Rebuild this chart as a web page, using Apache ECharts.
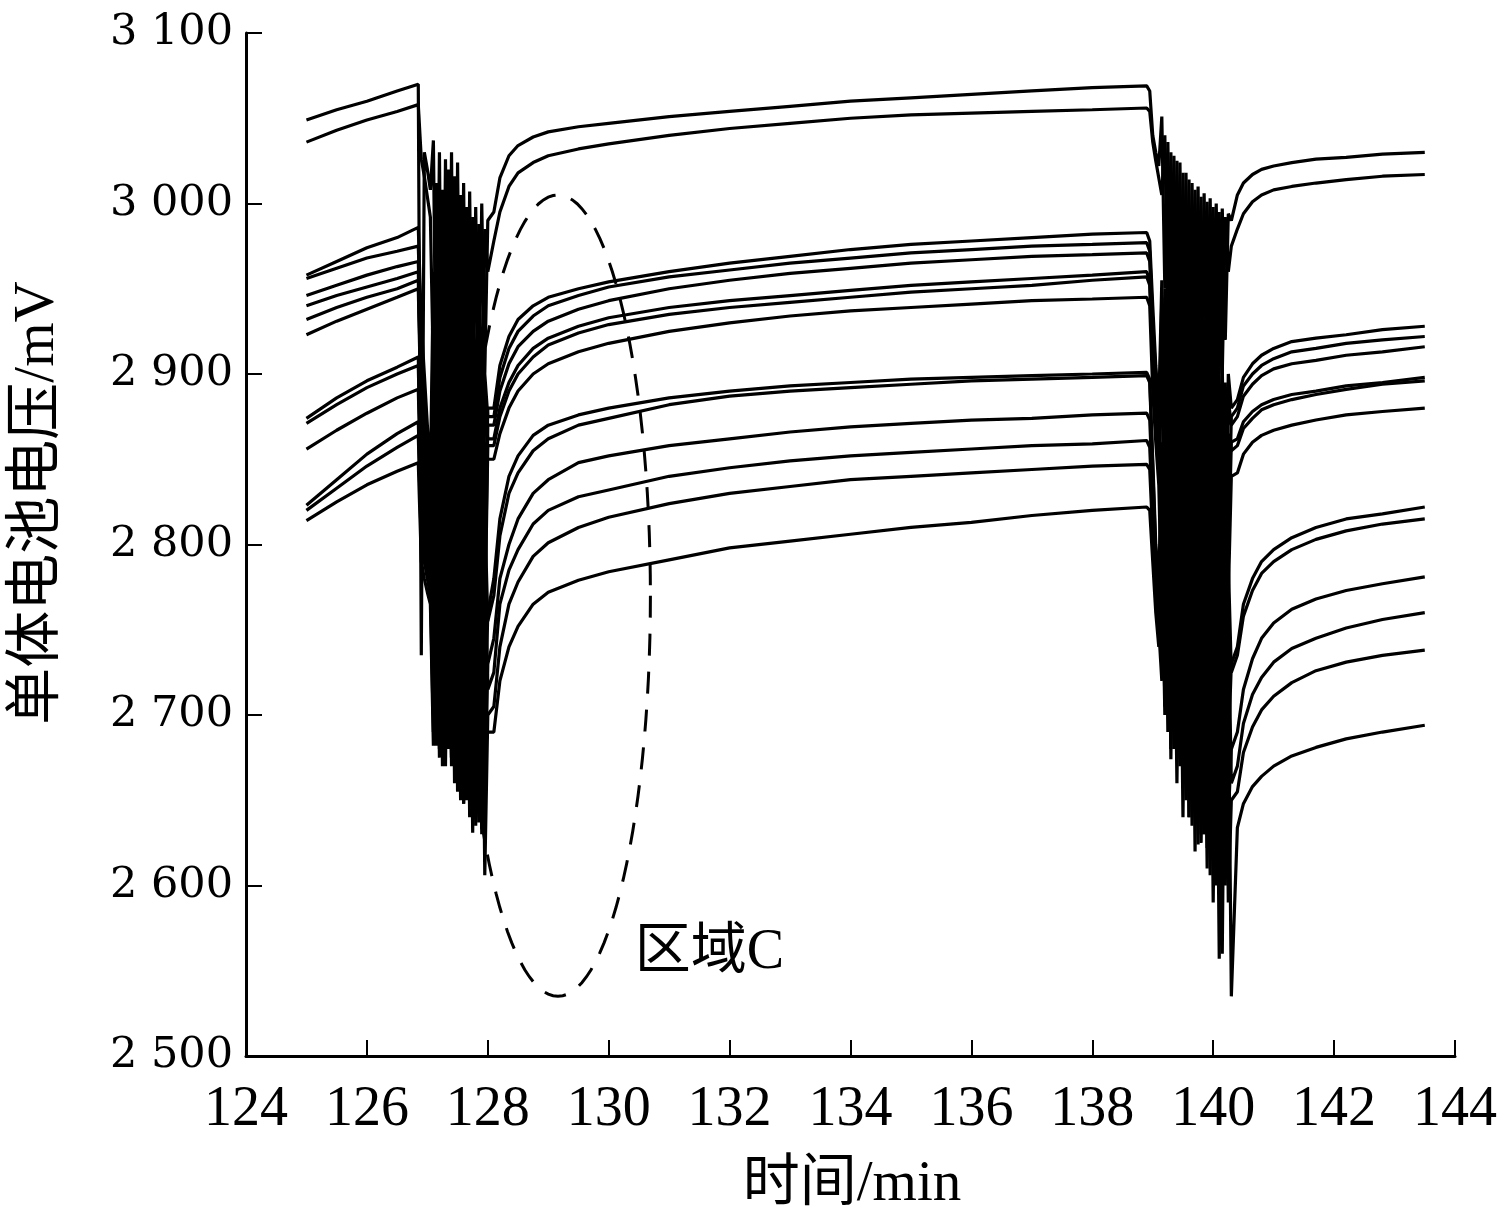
<!DOCTYPE html>
<html>
<head>
<meta charset="utf-8">
<script src="https://cdn.jsdelivr.net/npm/echarts@6/dist/echarts.min.js"></script>
<style>
  html, body { margin: 0; background: #fff; }
  #chart { width: 1510px; height: 1228px; }
</style>
</head>
<body>
<div id="chart"></div>
<script>
// time stamps (min) of each stretch, shared by all cells
const tBefore = [125, 125.5, 126, 126.5, 126.85]
const tDip1 = [126.9, 126.95, 127.0, 127.05, 127.1, 127.15, 127.2, 127.25, 127.3, 127.35, 127.4, 127.45,
  127.5, 127.55, 127.6, 127.65, 127.7, 127.75, 127.8, 127.85, 127.9, 127.95, 128.0]
const tRecovery = [128.1, 128.2, 128.35, 128.5, 128.75, 129, 129.5, 130, 131, 132, 133, 134, 135, 136, 137, 138, 138.9]
const tDip2 = [138.95, 139.0, 139.05, 139.1, 139.15, 139.2, 139.25, 139.3, 139.35, 139.4, 139.45, 139.5,
  139.55, 139.6, 139.65, 139.7, 139.75, 139.8, 139.85, 139.9, 139.95, 140.0, 140.05, 140.1, 140.15, 140.2, 140.25, 140.3]
const tAfter = [140.4, 140.5, 140.65, 140.8, 141, 141.3, 141.7, 142.2, 142.8, 143.5]

// cell voltages (mV), one row per cell
const beforeDrop = [
  [3049, 3055, 3060, 3066, 3070],
  [3036, 3043, 3049, 3054, 3058],
  [2958, 2966, 2974, 2980, 2986],
  [2956, 2962, 2968, 2972, 2975],
  [2946, 2952, 2958, 2963, 2966],
  [2940, 2946, 2951, 2956, 2960],
  [2932, 2939, 2945, 2950, 2955],
  [2923, 2931, 2938, 2945, 2950],
  [2874, 2886, 2896, 2904, 2910],
  [2871, 2882, 2892, 2900, 2905],
  [2856, 2867, 2877, 2886, 2891],
  [2823, 2838, 2853, 2865, 2872],
  [2820, 2833, 2846, 2857, 2864],
  [2814, 2825, 2835, 2843, 2848]
]
const firstDip = [
  [2735, 3030, 3020, 3008, 3037, 2870, 3030, 2840, 3026, 2860, 3030, 2820, 3024, 2850, 3012, 2830, 3007, 2860, 2998, 2880, 3000, 2900, 2990],
  [3026, 3016, 3004, 2992, 2900, 3012, 2860, 3008, 2880, 3020, 2830, 3016, 2870, 3005, 2850, 2998, 2870, 2992, 2840, 2988, 2860, 2985, 2960],
  [2930, 2900, 2870, 2840, 2960, 2780, 2950, 2760, 2955, 2790, 2940, 2750, 2945, 2770, 2930, 2760, 2935, 2780, 2920, 2760, 2915, 2800, 2880],
  [2920, 2880, 2850, 2820, 2790, 2945, 2770, 2950, 2740, 2935, 2780, 2940, 2750, 2925, 2770, 2930, 2745, 2915, 2770, 2905, 2760, 2900, 2875],
  [2905, 2860, 2830, 2800, 2940, 2760, 2930, 2790, 2945, 2750, 2925, 2770, 2935, 2740, 2920, 2780, 2910, 2750, 2900, 2780, 2895, 2760, 2870],
  [2890, 2850, 2810, 2790, 2760, 2920, 2750, 2935, 2770, 2920, 2745, 2930, 2760, 2910, 2740, 2905, 2770, 2895, 2740, 2890, 2770, 2880, 2862],
  [2880, 2835, 2800, 2780, 2910, 2740, 2925, 2760, 2915, 2735, 2920, 2765, 2905, 2745, 2900, 2735, 2890, 2760, 2885, 2730, 2875, 2750, 2858],
  [2870, 2820, 2790, 2770, 2745, 2900, 2760, 2910, 2730, 2905, 2750, 2895, 2725, 2890, 2750, 2880, 2730, 2875, 2740, 2865, 2720, 2860, 2850],
  [2830, 2800, 2795, 2790, 2880, 2690, 2870, 2700, 2875, 2680, 2860, 2690, 2870, 2670, 2850, 2680, 2845, 2660, 2840, 2670, 2830, 2690, 2760],
  [2825, 2800, 2790, 2785, 2700, 2860, 2685, 2865, 2690, 2850, 2675, 2855, 2680, 2840, 2660, 2845, 2670, 2830, 2650, 2825, 2680, 2820, 2755],
  [2820, 2795, 2790, 2780, 2850, 2682, 2845, 2670, 2850, 2690, 2840, 2660, 2835, 2650, 2830, 2665, 2820, 2640, 2815, 2660, 2810, 2640, 2730],
  [2810, 2790, 2785, 2775, 2690, 2835, 2680, 2840, 2670, 2830, 2675, 2825, 2655, 2820, 2648, 2815, 2650, 2810, 2635, 2800, 2630, 2795, 2715],
  [2800, 2790, 2780, 2770, 2820, 2700, 2830, 2690, 2820, 2680, 2815, 2670, 2810, 2660, 2800, 2650, 2795, 2631, 2790, 2637, 2785, 2606, 2700],
  [2790, 2780, 2772, 2765, 2682, 2810, 2675, 2815, 2690, 2805, 2670, 2800, 2660, 2795, 2648, 2790, 2640, 2780, 2640, 2775, 2633, 2680, 2690]
]
const recovery = [
  [2995, 3015, 3028, 3034, 3039, 3042, 3045, 3047, 3051, 3054, 3057, 3060, 3062, 3064, 3066, 3068, 3069],
  [2978, 2995, 3010, 3018, 3024, 3028, 3032, 3035, 3040, 3044, 3047, 3050, 3052, 3053, 3054, 3055, 3056],
  [2880, 2905, 2922, 2932, 2940, 2945, 2950, 2954, 2960, 2965, 2969, 2973, 2976, 2978, 2980, 2982, 2983],
  [2875, 2898, 2915, 2925, 2934, 2940, 2946, 2951, 2957, 2961, 2965, 2968, 2971, 2973, 2975, 2976, 2977],
  [2870, 2890, 2906, 2916, 2925, 2931, 2938, 2943, 2950, 2955, 2959, 2962, 2965, 2967, 2969, 2970, 2971],
  [2862, 2880, 2895, 2905, 2915, 2921, 2928, 2933, 2939, 2943, 2946, 2949, 2952, 2954, 2956, 2958, 2960],
  [2858, 2875, 2890, 2900, 2910, 2917, 2924, 2929, 2935, 2939, 2942, 2945, 2948, 2950, 2952, 2955, 2957],
  [2850, 2865, 2880, 2890, 2900, 2906, 2913, 2918, 2925, 2930, 2934, 2937, 2939, 2941, 2943, 2944, 2945],
  [2780, 2815, 2840, 2852, 2864, 2870, 2876, 2880, 2886, 2890, 2893, 2895, 2897, 2898, 2899, 2900, 2901],
  [2770, 2805, 2830, 2842, 2855, 2862, 2870, 2874, 2882, 2887, 2890, 2892, 2894, 2896, 2897, 2898, 2899],
  [2745, 2780, 2800, 2815, 2830, 2838, 2848, 2852, 2858, 2862, 2866, 2869, 2871, 2873, 2874, 2876, 2877],
  [2725, 2765, 2785, 2797, 2812, 2820, 2828, 2832, 2840, 2845, 2849, 2852, 2854, 2856, 2858, 2859, 2861],
  [2705, 2740, 2765, 2778, 2793, 2801, 2810, 2816, 2824, 2830, 2834, 2838, 2840, 2842, 2844, 2846, 2847],
  [2690, 2720, 2740, 2752, 2765, 2772, 2779, 2784, 2791, 2798, 2802, 2806, 2810, 2813, 2817, 2820, 2822]
]
const secondDip = [
  [3066, 3040, 3030, 3022, 3051, 2950, 3036, 2920, 3028, 2900, 3024, 2880, 3018, 2870, 3012, 2890, 3010, 2860, 3006, 2880, 3003, 2870, 3000, 2900, 2997, 2920, 2994, 2990],
  [3054, 3036, 3025, 3015, 3005, 3040, 2930, 3030, 2900, 3025, 2870, 3018, 2880, 3014, 2860, 3008, 2870, 3004, 2850, 3001, 2880, 2998, 2890, 2995, 2900, 2992, 2960, 2975],
  [2978, 2940, 2905, 2880, 2955, 2820, 2960, 2780, 2950, 2800, 2945, 2760, 2940, 2780, 2935, 2750, 2930, 2770, 2925, 2740, 2920, 2760, 2915, 2750, 2905, 2780, 2900, 2880],
  [2972, 2930, 2900, 2870, 2800, 2950, 2790, 2955, 2760, 2940, 2770, 2935, 2740, 2930, 2760, 2925, 2735, 2920, 2755, 2910, 2730, 2905, 2745, 2900, 2760, 2895, 2800, 2875],
  [2966, 2925, 2890, 2860, 2945, 2780, 2945, 2770, 2935, 2750, 2930, 2765, 2925, 2730, 2920, 2750, 2915, 2725, 2910, 2745, 2900, 2720, 2895, 2740, 2890, 2760, 2885, 2870],
  [2955, 2910, 2875, 2850, 2790, 2935, 2760, 2935, 2745, 2925, 2760, 2920, 2730, 2915, 2745, 2905, 2720, 2900, 2740, 2890, 2715, 2885, 2735, 2880, 2750, 2875, 2790, 2860],
  [2952, 2905, 2870, 2845, 2925, 2770, 2930, 2750, 2920, 2740, 2915, 2755, 2910, 2725, 2900, 2740, 2895, 2715, 2885, 2735, 2880, 2710, 2875, 2730, 2870, 2745, 2865, 2855],
  [2940, 2890, 2860, 2835, 2760, 2915, 2750, 2920, 2730, 2910, 2745, 2900, 2720, 2895, 2735, 2890, 2705, 2880, 2725, 2870, 2700, 2865, 2720, 2860, 2735, 2855, 2770, 2840],
  [2897, 2850, 2800, 2780, 2770, 2880, 2720, 2885, 2700, 2875, 2690, 2870, 2680, 2860, 2670, 2855, 2665, 2850, 2650, 2840, 2660, 2835, 2640, 2830, 2650, 2820, 2680, 2730],
  [2895, 2845, 2795, 2775, 2860, 2710, 2870, 2700, 2865, 2685, 2860, 2675, 2850, 2665, 2845, 2650, 2840, 2660, 2830, 2640, 2825, 2635, 2820, 2645, 2810, 2660, 2790, 2725],
  [2873, 2830, 2785, 2765, 2740, 2855, 2700, 2860, 2690, 2850, 2674, 2845, 2660, 2840, 2650, 2835, 2640, 2825, 2630, 2820, 2640, 2810, 2620, 2800, 2610, 2790, 2640, 2680],
  [2857, 2815, 2775, 2755, 2840, 2705, 2845, 2674, 2840, 2680, 2830, 2660, 2825, 2640, 2820, 2645, 2810, 2630, 2800, 2622, 2795, 2615, 2785, 2600, 2775, 2610, 2760, 2660],
  [2844, 2805, 2770, 2750, 2720, 2825, 2690, 2830, 2680, 2820, 2670, 2815, 2650, 2810, 2635, 2800, 2624, 2790, 2630, 2780, 2606, 2770, 2600, 2760, 2560, 2750, 2590, 2650],
  [2820, 2790, 2760, 2740, 2800, 2700, 2805, 2680, 2800, 2660, 2795, 2640, 2790, 2640, 2780, 2620, 2775, 2625, 2765, 2610, 2755, 2590, 2745, 2557, 2735, 2600, 2725, 2535]
]
const afterDrop = [
  [3005, 3012, 3017, 3020, 3022, 3024, 3026, 3027, 3029, 3030],
  [2985, 2994, 3001, 3005, 3008, 3010, 3012, 3014, 3016, 3017],
  [2885, 2898, 2906, 2911, 2915, 2919, 2921, 2923, 2926, 2928],
  [2880, 2893, 2900, 2905, 2909, 2913, 2915, 2918, 2920, 2922],
  [2875, 2887, 2894, 2899, 2903, 2906, 2908, 2911, 2913, 2916],
  [2862, 2872, 2878, 2882, 2885, 2888, 2890, 2893, 2895, 2898],
  [2858, 2868, 2874, 2879, 2882, 2885, 2888, 2891, 2894, 2896],
  [2842, 2853, 2860, 2864, 2867, 2870, 2873, 2876, 2878, 2880],
  [2740, 2765, 2780, 2790, 2797, 2804, 2810, 2815, 2818, 2822],
  [2735, 2758, 2773, 2783, 2790, 2797, 2803, 2808, 2812, 2815],
  [2690, 2715, 2733, 2745, 2754, 2762, 2768, 2773, 2777, 2781],
  [2670, 2695, 2712, 2722, 2731, 2739, 2745, 2751, 2756, 2760],
  [2655, 2678, 2693, 2703, 2711, 2719, 2726, 2731, 2735, 2738],
  [2634, 2648, 2658, 2664, 2670, 2676, 2681, 2686, 2690, 2694]
]

const serif = "'Times New Roman', 'Liberation Serif', 'Noto Sans CJK SC', serif"

function pairs (times, values) {
  return times.map((t, k) => [t, values[k]])
}

const series = beforeDrop.map((row, i) => ({
  name: 'cell' + (i + 1),
  type: 'line',
  symbol: 'none',
  animation: false,
  lineStyle: { color: '#000', width: 3.2 },
  data: [].concat(
    pairs(tBefore, beforeDrop[i]),
    pairs(tDip1, firstDip[i]),
    pairs(tRecovery, recovery[i]),
    pairs(tDip2, secondDip[i]),
    pairs(tAfter, afterDrop[i])
  )
}))

const chart = echarts.init(document.getElementById('chart'))
chart.setOption({
  backgroundColor: '#fff',
  animation: false,
  grid: { left: 246, right: 55, top: 33, bottom: 172 },
  xAxis: {
    type: 'value',
    min: 124,
    max: 144,
    interval: 2,
    axisLine: { onZero: false, lineStyle: { color: '#000', width: 3 } },
    axisTick: { inside: true, length: 16, lineStyle: { color: '#000', width: 2 } },
    axisLabel: { color: '#000', fontFamily: serif, fontSize: 56, margin: 26 },
    splitLine: { show: false }
  },
  yAxis: {
    type: 'value',
    min: 2500,
    max: 3100,
    interval: 100,
    axisLine: { show: true, lineStyle: { color: '#000', width: 3 } },
    axisTick: { inside: true, length: 16, lineStyle: { color: '#000', width: 2 } },
    axisLabel: {
      color: '#000',
      fontFamily: "'DejaVu Serif', serif",
      fontSize: 43,
      margin: 13,
      formatter: v => Math.floor(v / 1000) + ' ' + String(v % 1000).padStart(3, '0')
    },
    splitLine: { show: false }
  },
  series: series
})

// dashed ellipse marking region C, placed in data coordinates
const c = chart.convertToPixel({ gridIndex: 0 }, [129.16, 2770])
const e = chart.convertToPixel({ gridIndex: 0 }, [129.16 + 1.53, 2770 + 235])
const rx = e[0] - c[0]
const ry = c[1] - e[1]
const ring = []
for (let k = 0; k < 120; k++) {
  const a = (k / 120) * Math.PI * 2
  ring.push([c[0] + rx * Math.cos(a), c[1] + ry * Math.sin(a)])
}
const label = chart.convertToPixel({ gridIndex: 0 }, [130.43, 2560])

chart.setOption({
  graphic: [
    {
      type: 'polygon',
      shape: { points: ring },
      style: { fill: 'none', stroke: '#000', lineWidth: 3, lineDash: [22, 16] },
      z: 10
    },
    {
      type: 'text',
      x: label[0],
      y: label[1],
      style: {
        text: '区域C',
        font: "56px 'Liberation Serif', 'Noto Sans CJK SC', serif",
        fill: '#000',
        align: 'left',
        verticalAlign: 'middle'
      },
      z: 10
    },
    {
      type: 'text',
      x: 852,
      y: 1185,
      style: {
        text: '时间/min',
        font: "57px 'Liberation Serif', 'Noto Sans CJK SC', serif",
        fill: '#000',
        align: 'center',
        verticalAlign: 'middle'
      }
    },
    {
      type: 'text',
      x: 38,
      y: 503,
      rotation: Math.PI / 2,
      style: {
        text: '单体电池电压/mV',
        font: "57px 'Liberation Serif', 'Noto Sans CJK SC', serif",
        fill: '#000',
        align: 'center',
        verticalAlign: 'middle'
      }
    }
  ]
})
</script>
</body>
</html>
